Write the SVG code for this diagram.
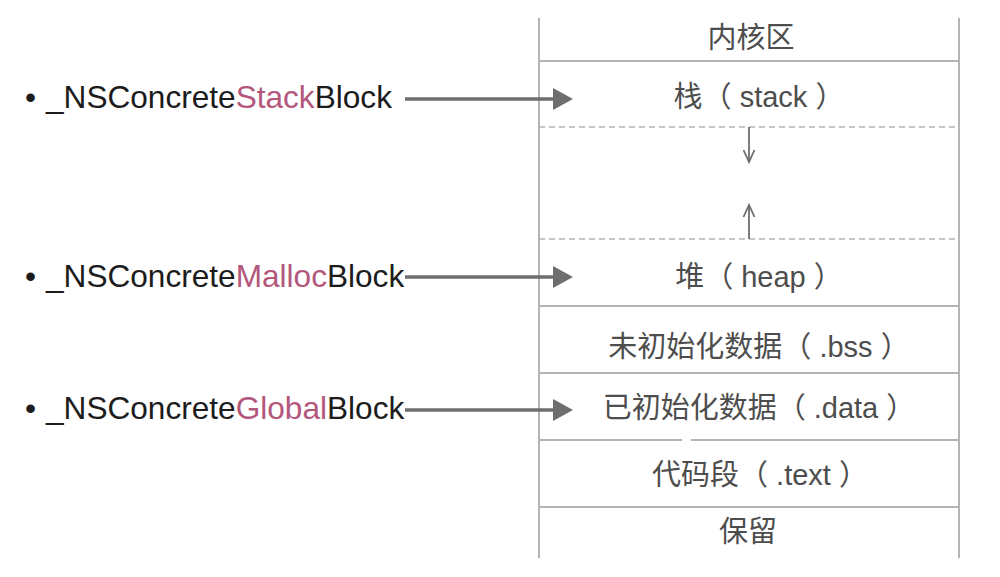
<svg xmlns="http://www.w3.org/2000/svg" width="1000" height="577" viewBox="0 0 1000 577">
  <defs>
    <style>
      .lbl { font-family: "Liberation Sans", "Noto Sans CJK SC", sans-serif; font-size: 31.6px; fill: #1c1c1c; }
      .hl { fill: #b3577c; }
      .cell { font-family: "Liberation Sans", "Noto Sans CJK SC", sans-serif; font-size: 29px; fill: #4d4d4d; text-anchor: middle; dominant-baseline: central; }
      .solid { stroke: #b4b4b4; stroke-width: 2; fill: none; }
      .dash { stroke: #b4b4b4; stroke-width: 1.5; stroke-dasharray: 6 4; fill: none; }
      .big { stroke: #6e6e6e; stroke-width: 3.5; fill: none; }
      .small { stroke: #6e6e6e; stroke-width: 1.8; fill: none; }
    </style>
    <marker id="bighead" viewBox="0 0 20 22" refX="0" refY="11" markerWidth="20" markerHeight="22" markerUnits="userSpaceOnUse" orient="auto">
      <path d="M0,0 L20,11 L0,22 Z" fill="#6e6e6e"/>
    </marker>
  </defs>
  <rect width="1000" height="577" fill="#ffffff"/>

  <g id="memory-column">
    <line class="solid" x1="539" y1="18" x2="539" y2="558"/>
    <line class="solid" x1="959" y1="18" x2="959" y2="558"/>
    <line class="solid" x1="539" y1="61" x2="959" y2="61"/>
    <line class="dash" x1="539" y1="127" x2="959" y2="127"/>
    <line class="dash" x1="539" y1="239" x2="959" y2="239"/>
    <line class="solid" x1="539" y1="306" x2="959" y2="306"/>
    <line class="solid" x1="539" y1="373" x2="959" y2="373"/>
    <line class="solid" x1="539" y1="440" x2="682" y2="440"/>
    <line class="solid" x1="691" y1="440" x2="959" y2="440"/>
    <line class="solid" x1="539" y1="507" x2="959" y2="507"/>
  </g>

  <g id="cell-kernel"><text class="cell" x="751" y="38">内核区</text></g>
  <g id="cell-stack"><text class="cell" x="759" y="97">栈（ stack ）</text></g>
  <g id="cell-heap"><text class="cell" x="759" y="277">堆（ heap ）</text></g>
  <g id="cell-bss"><text class="cell" x="759" y="347">未初始化数据（ .bss ）</text></g>
  <g id="cell-data"><text class="cell" x="759" y="408">已初始化数据（ .data ）</text></g>
  <g id="cell-text"><text class="cell" x="760" y="475">代码段（ .text ）</text></g>
  <g id="cell-reserved"><text class="cell" x="748" y="532">保留</text></g>

  <g id="label-stack">
    <text class="lbl" x="25" y="108">•</text>
    <text class="lbl" x="46" y="108">_NSConcrete<tspan class="hl">Stack</tspan>Block</text>
  </g>
  <g id="label-malloc">
    <text class="lbl" x="25" y="287">•</text>
    <text class="lbl" x="46" y="287">_NSConcrete<tspan class="hl">Malloc</tspan>Block</text>
  </g>
  <g id="label-global">
    <text class="lbl" x="25" y="419">•</text>
    <text class="lbl" x="46" y="419">_NSConcrete<tspan class="hl">Global</tspan>Block</text>
  </g>

  <g id="connectors">
    <line class="big" x1="405" y1="99" x2="553" y2="99" marker-end="url(#bighead)"/>
    <line class="big" x1="405" y1="277" x2="553" y2="277" marker-end="url(#bighead)"/>
    <line class="big" x1="405" y1="410" x2="553" y2="410" marker-end="url(#bighead)"/>
    <line class="small" x1="749" y1="127" x2="749" y2="161"/>
    <path class="small" d="M743.5,150 L749,162 L754.5,150"/>
    <line class="small" x1="749" y1="239" x2="749" y2="206"/>
    <path class="small" d="M743.5,217 L749,205 L754.5,217"/>
  </g>
</svg>
